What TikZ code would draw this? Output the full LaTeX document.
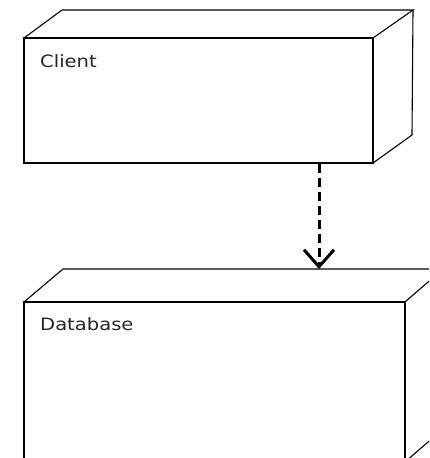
\documentclass[tikz,border=0pt]{standalone}
\usepackage{fontspec}
\newfontfamily\lblfont[FakeStretch=1.15]{DejaVu Sans}
\usetikzlibrary{arrows.meta}
\tikzset{
  x=1pt, y=-1pt,
  frontface/.style={draw=black, line width=2.2pt, minimum width=349pt, minimum height=125pt, anchor=north west, inner sep=0pt, outer sep=0pt},
  dbface/.style={draw=black, line width=1.4pt, minimum width=381pt, minimum height=160pt, anchor=north west, inner sep=0pt, outer sep=0pt},
  edge3d/.style={draw=black, line width=1.1pt, line join=miter},
  lbl/.style={anchor=base west, inner sep=0pt, font=\lblfont\fontsize{17}{20}\selectfont, text=black!85},
  dep/.style={draw=black, line width=3pt, dash pattern=on 9pt off 5pt, -{Straight Barb[length=17pt, width=30pt, line width=3pt]}}
}
\begin{document}
\begin{tikzpicture}
\useasboundingbox (0,0) rectangle (429,458);
\fill[white] (0,0) rectangle (429,458);
% Client node
\node[frontface] (client) at (24,38) {};
\draw[edge3d] (client.north west) -- (62,10) -- (413,10) -- (client.north east);
\draw[edge3d] (413,10) -- (412,135) -- (client.south east);
\node[lbl] (clientlbl) at (40,67) {Client};
% Database node
\begin{scope}
\clip (0,0) rectangle (429,458);
\node[dbface] (db) at (24,302) {};
\draw[edge3d] (db.north west) -- (63,269) -- (443,269) -- (db.north east);
\draw[edge3d] (443,269) -- (443,429) -- (db.south east);
\end{scope}
\node[lbl] (dblbl) at (40,330) {Database};
% dependency
\coordinate (cbot) at (319,164);
\coordinate (dbtop) at (319,269);
\draw[dep] (cbot) -- (dbtop);
\end{tikzpicture}
\end{document}
